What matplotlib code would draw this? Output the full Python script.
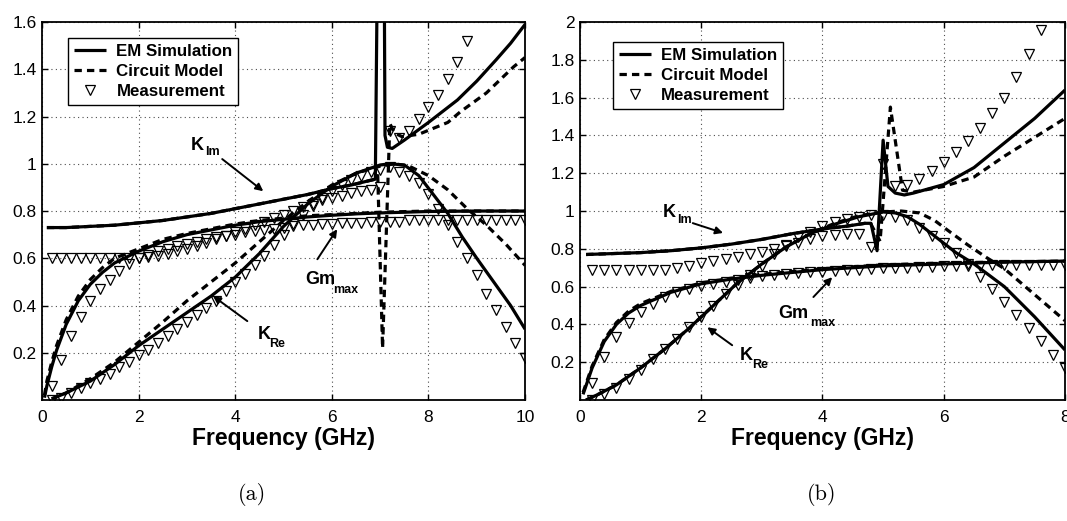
import numpy as np
import matplotlib
matplotlib.use("Agg")
import matplotlib.pyplot as plt

plt.rcParams['font.family'] = ['Liberation Sans', 'DejaVu Sans']

nan = np.nan

# ---------------- panel (a) ----------------
fa_meas = np.round(np.arange(0.2, 10.01, 0.2), 1)
meas_a_kim = [0.60, 0.60, 0.60, 0.60, 0.60, 0.60, 0.60, 0.60, 0.60, 0.60,
              0.605, 0.61, 0.62, 0.63, 0.64, 0.65, 0.665, 0.68, 0.695, 0.71,
              0.725, 0.74, 0.755, 0.77, 0.785, 0.80, 0.815, 0.83, 0.845, 0.855,
              0.865, 0.875, 0.885, 0.89, 0.90, 1.14, 1.11, 1.14, 1.19, 1.24,
              1.29, 1.36, 1.43, 1.52, nan, nan, nan, nan, nan, nan]
meas_a_gm = [0.06, 0.17, 0.27, 0.35, 0.42, 0.47, 0.51, 0.545, 0.575, 0.60,
             0.615, 0.63, 0.64, 0.65, 0.66, 0.67, 0.68, 0.69, 0.695, 0.70,
             0.71, 0.715, 0.72, 0.725, 0.73, 0.735, 0.74, 0.74, 0.745, 0.745,
             0.75, 0.75, 0.75, 0.755, 0.755, 0.755, 0.755, 0.76, 0.76, 0.76,
             0.76, 0.76, 0.76, 0.76, 0.76, 0.76, 0.76, 0.76, 0.76, 0.76]
meas_a_kre = [0.0, 0.01, 0.03, 0.05, 0.07, 0.09, 0.11, 0.14, 0.16, 0.19,
              0.21, 0.24, 0.27, 0.30, 0.33, 0.36, 0.39, 0.42, 0.46, 0.50,
              0.535, 0.57, 0.61, 0.655, 0.70, 0.745, 0.785, 0.82, 0.855, 0.885,
              0.91, 0.93, 0.95, 0.965, 0.975, 0.985, 0.965, 0.95, 0.92, 0.87,
              0.81, 0.74, 0.67, 0.60, 0.53, 0.45, 0.38, 0.31, 0.24, 0.18]

# EM simulation (solid) and circuit model (dashed)
fa_kim_em = [0.1, 0.5, 1, 1.5, 2, 2.5, 3, 3.5, 4, 4.5, 5, 5.5, 6, 6.4, 6.7, 6.9, 6.95,
             7.08, 7.1, 7.15, 7.25, 7.5, 8.0, 8.6, 9.0, 9.4, 9.7, 10]
a_kim_em = [0.73, 0.73, 0.735, 0.74, 0.75, 0.76, 0.775, 0.79, 0.81, 0.83, 0.85, 0.87,
            0.895, 0.91, 0.925, 0.935, 2.0, 2.0, 1.12, 1.07, 1.065, 1.10, 1.175, 1.27,
            1.35, 1.44, 1.51, 1.59]
fa_kim_cm = [0.1, 0.5, 1, 1.5, 2, 2.5, 3, 3.5, 4, 4.5, 5, 5.5, 6, 6.4, 6.7, 6.9, 6.95,
             7.05, 7.2, 7.3, 7.45, 7.8, 8.4, 8.66, 9.2, 9.76, 10]
a_kim_cm = [0.73, 0.73, 0.735, 0.74, 0.75, 0.76, 0.775, 0.79, 0.81, 0.83, 0.85, 0.87,
            0.895, 0.91, 0.925, 0.935, 0.95, 0.22, 1.17, 1.13, 1.115, 1.125, 1.175,
            1.22, 1.30, 1.41, 1.45]

fa_gm = [0.05, 0.1, 0.2, 0.3, 0.5, 0.75, 1, 1.25, 1.5, 2, 2.5, 3, 3.5, 4, 4.5, 5,
         5.5, 6, 6.5, 7, 8, 9, 10]
a_gm_em = [0.01, 0.06, 0.14, 0.21, 0.32, 0.42, 0.49, 0.54, 0.58, 0.63, 0.67, 0.70,
           0.72, 0.74, 0.755, 0.765, 0.775, 0.782, 0.788, 0.792, 0.798, 0.80, 0.80]
a_gm_cm = [0.02, 0.08, 0.16, 0.23, 0.34, 0.44, 0.51, 0.56, 0.60, 0.64, 0.68, 0.705,
           0.725, 0.745, 0.76, 0.77, 0.78, 0.785, 0.79, 0.795, 0.80, 0.80, 0.80]

fa_kre_em = [0.2, 0.5, 1, 1.5, 2, 2.5, 3, 3.5, 4, 4.5, 5, 5.5, 6, 6.5, 7.0, 7.2,
             7.5, 7.8, 8.1, 8.4, 8.7, 9.0, 9.35, 9.7, 10]
a_kre_em = [0.005, 0.03, 0.08, 0.15, 0.23, 0.30, 0.37, 0.44, 0.52, 0.62, 0.735, 0.83,
            0.905, 0.96, 0.995, 1.0, 0.995, 0.95, 0.87, 0.79, 0.69, 0.60, 0.50, 0.40, 0.30]
fa_kre_cm = [0.2, 0.5, 1, 1.5, 2, 2.5, 3, 3.5, 4, 4.5, 5, 5.5, 6, 6.5, 7, 7.3, 7.6,
             8.0, 8.4, 8.8, 9.2, 9.6, 10]
a_kre_cm = [0.005, 0.03, 0.09, 0.16, 0.245, 0.33, 0.42, 0.50, 0.58, 0.67, 0.76, 0.84,
            0.91, 0.96, 0.99, 1.0, 0.99, 0.95, 0.89, 0.81, 0.74, 0.66, 0.57]

# ---------------- panel (b) ----------------
fb_meas = np.round(np.arange(0.2, 8.01, 0.2), 1)
meas_b_kim = [0.69, 0.69, 0.69, 0.69, 0.69, 0.69, 0.69, 0.70, 0.71, 0.725,
              0.735, 0.745, 0.755, 0.77, 0.785, 0.80, 0.815, 0.83, 0.85, 0.87,
              0.875, 0.88, 0.88, 0.81, 1.25, 1.13, 1.14, 1.17, 1.21, 1.26,
              1.31, 1.37, 1.44, 1.52, 1.60, 1.71, 1.83, 1.96, nan, nan]
meas_b_gm = [0.09, 0.23, 0.335, 0.41, 0.465, 0.51, 0.545, 0.57, 0.59, 0.605,
             0.615, 0.625, 0.635, 0.645, 0.655, 0.66, 0.665, 0.67, 0.675, 0.68,
             0.685, 0.69, 0.69, 0.695, 0.70, 0.70, 0.70, 0.705, 0.705, 0.71,
             0.71, 0.71, 0.71, 0.715, 0.715, 0.715, 0.715, 0.715, 0.715, 0.715]
meas_b_kre = [0.0, 0.03, 0.065, 0.11, 0.16, 0.215, 0.27, 0.325, 0.385, 0.44,
              0.50, 0.56, 0.61, 0.66, 0.71, 0.77, 0.82, 0.86, 0.89, 0.92,
              0.94, 0.96, 0.97, 0.98, 0.98, 0.97, 0.95, 0.91, 0.87, 0.83,
              0.78, 0.72, 0.65, 0.59, 0.52, 0.45, 0.38, 0.31, 0.24, 0.17]

fb_kim_em = [0.1, 1, 1.5, 2, 2.5, 3, 3.5, 4, 4.4, 4.7, 4.8, 4.9, 5.0, 5.08, 5.2,
             5.35, 5.5, 6.0, 6.5, 7.0, 7.5, 8.0]
b_kim_em = [0.77, 0.78, 0.79, 0.805, 0.825, 0.85, 0.88, 0.905, 0.92, 0.935, 0.935,
            0.79, 1.375, 1.13, 1.095, 1.085, 1.095, 1.14, 1.23, 1.36, 1.49, 1.64]
fb_kim_cm = [0.1, 1, 1.5, 2, 2.5, 3, 3.5, 4, 4.4, 4.7, 4.8, 4.95, 5.12, 5.32, 5.5,
             6.0, 6.5, 7.0, 7.5, 8.0]
b_kim_cm = [0.77, 0.78, 0.79, 0.805, 0.825, 0.85, 0.88, 0.905, 0.92, 0.935, 0.93,
            0.84, 1.55, 1.11, 1.10, 1.13, 1.18, 1.29, 1.39, 1.49]

fb_gm = [0.05, 0.2, 0.4, 0.6, 0.8, 1.0, 1.5, 2.0, 2.5, 3.0, 3.5, 4.0, 5.0, 6.0, 7.0, 8.0]
b_gm_em = [0.03, 0.17, 0.31, 0.40, 0.46, 0.50, 0.57, 0.615, 0.64, 0.66, 0.675, 0.69,
           0.71, 0.72, 0.73, 0.735]
b_gm_cm = [0.04, 0.18, 0.32, 0.41, 0.47, 0.51, 0.575, 0.62, 0.645, 0.665, 0.68, 0.695,
           0.715, 0.725, 0.73, 0.735]

fb_kre_em = [0.1, 0.3, 0.6, 1.0, 1.4, 1.8, 2.2, 2.6, 3.0, 3.4, 3.8, 4.2, 4.6, 5.0,
             5.2, 5.4, 5.6, 5.8, 6.0, 6.2, 6.5, 7.0, 7.5, 8.0]
b_kre_em = [0.0, 0.03, 0.08, 0.17, 0.27, 0.38, 0.50, 0.62, 0.72, 0.81, 0.88, 0.93,
            0.97, 0.995, 0.99, 0.97, 0.93, 0.88, 0.83, 0.78, 0.72, 0.60, 0.44, 0.265]
fb_kre_cm = [0.1, 0.3, 0.6, 1.0, 1.4, 1.8, 2.2, 2.6, 3.0, 3.4, 3.8, 4.2, 4.6, 5.0,
             5.3, 5.6, 5.85, 6.1, 6.4, 6.7, 7.0, 7.4, 7.8, 8.0]
b_kre_cm = [0.0, 0.03, 0.08, 0.17, 0.27, 0.38, 0.50, 0.62, 0.72, 0.81, 0.88, 0.935,
            0.975, 0.995, 1.0, 0.99, 0.95, 0.89, 0.82, 0.755, 0.695, 0.585, 0.475, 0.42]

LW = 2.3
DASH = (0, (2.3, 1.6))
MS = 7.2


def draw_panel(ax, f_meas, meas, em, cm, xmax, ymax, yticks, xticks):
    # em / cm: list of (f, y) pairs
    for f, y in em:
        ax.plot(f, y, color='k', lw=LW, solid_capstyle='butt', zorder=3)
    for f, y in cm:
        ax.plot(f, y, color='k', lw=LW, linestyle=DASH, zorder=3)
    for y in meas:
        ax.plot(f_meas, y, linestyle='none', marker='v', ms=MS, mfc='none',
                mec='k', mew=0.9, zorder=4)
    ax.set_xlim(0, xmax)
    ax.set_ylim(0, ymax)
    ax.set_xticks(xticks)
    ax.set_yticks(yticks)
    ax.set_xticklabels(['%g' % t for t in xticks])
    ax.set_yticklabels(['%g' % t for t in yticks])
    ax.grid(True, color='0.3', linestyle=(0, (1, 3)), lw=0.8)
    ax.tick_params(direction='in', length=4, width=1, top=True, right=True,
                   labelsize=12.5)
    ax.tick_params(axis='x', pad=7)
    ax.tick_params(axis='y', pad=4)
    for s in ax.spines.values():
        s.set_linewidth(1.3)
    ax.text(0.5, -0.118, 'Frequency (GHz)', transform=ax.transAxes, ha='center',
            va='baseline', fontsize=16.5, fontweight='bold')


def label(ax, x, y, main, sub, dx, dy, xt, yt, xh, yh):
    ax.text(x, y, main, fontsize=13, fontweight='bold', ha='left', va='baseline',
            zorder=6)
    ax.annotate(sub, xy=(x, y), xytext=(dx, dy), textcoords='offset points',
                fontsize=9, fontweight='bold', ha='left', va='baseline', zorder=6)
    ax.annotate('', xy=(xh, yh), xytext=(xt, yt),
                arrowprops=dict(arrowstyle='-|>', color='k', lw=1.4,
                                mutation_scale=11, shrinkA=0, shrinkB=0),
                zorder=6)


def legend(ax, x0, y0, handles):
    leg = ax.legend(handles, ['EM Simulation', 'Circuit Model', 'Measurement'],
                    loc='upper left', bbox_to_anchor=(x0, y0), borderaxespad=0,
                    prop={'weight': 'bold', 'size': 12.2}, handlelength=1.9,
                    handletextpad=0.6, labelspacing=0.3, borderpad=0.35,
                    fancybox=False, framealpha=1, edgecolor='k')
    leg.get_frame().set_linewidth(1.0)
    leg.set_zorder(10)


fig = plt.figure(figsize=(10.67, 5.21), dpi=100)
axa = fig.add_axes([0.0394, 0.2322, 0.4527, 0.7255])
axb = fig.add_axes([0.5436, 0.2322, 0.4545, 0.7255])

draw_panel(axa, fa_meas, [meas_a_kim, meas_a_gm, meas_a_kre],
           [(fa_kim_em, a_kim_em), (fa_gm, a_gm_em), (fa_kre_em, a_kre_em)],
           [(fa_kim_cm, a_kim_cm), (fa_gm, a_gm_cm), (fa_kre_cm, a_kre_cm)],
           10, 1.6, [0.2, 0.4, 0.6, 0.8, 1, 1.2, 1.4, 1.6], [0, 2, 4, 6, 8, 10])
draw_panel(axb, fb_meas, [meas_b_kim, meas_b_gm, meas_b_kre],
           [(fb_kim_em, b_kim_em), (fb_gm, b_gm_em), (fb_kre_em, b_kre_em)],
           [(fb_kim_cm, b_kim_cm), (fb_gm, b_gm_cm), (fb_kre_cm, b_kre_cm)],
           8, 2, [0.2, 0.4, 0.6, 0.8, 1, 1.2, 1.4, 1.6, 1.8, 2], [0, 2, 4, 6, 8])

for ax, x0, y0 in [(axa, 0.054, 0.958), (axb, 0.068, 0.947)]:
    h = [ax.lines[0], ax.lines[3], ax.lines[6]]
    legend(ax, x0, y0, h)

# annotations, panel (a)
label(axa, 3.07, 1.06, 'K', 'Im', 10.5, -4, 3.73, 1.02, 4.58, 0.884)
label(axa, 5.45, 0.49, 'Gm', 'max', 20, -6, 5.7, 0.596, 6.11, 0.723)
label(axa, 4.46, 0.258, 'K', 'Re', 8.5, -6, 4.25, 0.334, 3.54, 0.44)

# annotations, panel (b)
label(axb, 1.37, 0.968, 'K', 'Im', 10, -4.3, 1.86, 0.936, 2.36, 0.884)
label(axb, 3.27, 0.434, 'Gm', 'max', 23, -6, 3.85, 0.545, 4.16, 0.65)
label(axb, 2.64, 0.212, 'K', 'Re', 9, -6, 2.51, 0.29, 2.1, 0.385)

fig.text(252 / 1067, 1 - 500 / 521, '(a)', fontsize=16, family='cmr10',
         ha='center', va='baseline')
fig.text(822 / 1067, 1 - 500 / 521, '(b)', fontsize=16, family='cmr10',
         ha='center', va='baseline')

fig.savefig('out.png', dpi=100)
